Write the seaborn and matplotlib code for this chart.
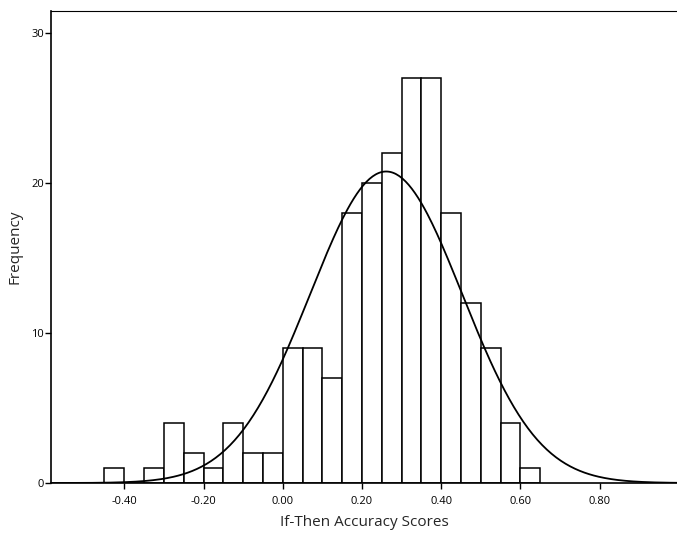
import numpy as np
import pandas as pd
import matplotlib
matplotlib.use("Agg")
import matplotlib.pyplot as plt
import seaborn as sns

# histogram bins (width 0.05) and counts
bin_start = -0.45
bin_stop = 0.65
bin_width = 0.05
counts = [1, 0, 1, 4, 2, 1, 4, 2, 2, 9, 9, 7, 18, 20, 22, 27, 27, 18, 12, 9, 4, 1]
x_ticks = [-0.40, -0.20, 0.00, 0.20, 0.40, 0.60, 0.80]
x_ticklabels = ["-0.40", "-0.20", "0.00", "0.20", "0.40", "0.60", "0.80"]
y_ticks = [0, 10, 20, 30]

sns.set_style("white")
plt.rcParams['font.family'] = ['Open Sans', 'DejaVu Sans']

centers = bin_start + bin_width * (np.arange(len(counts)) + 0.5)
df = pd.DataFrame({'score': centers, 'count': counts})

# normal curve fitted to the binned data
n = df['count'].sum()
mean = np.sum(df['score'] * df['count']) / n
sd = np.sqrt(np.sum(df['count'] * (df['score'] - mean) ** 2) / n)
xs = np.linspace(-0.585, 0.995, 400)
curve = pd.DataFrame({'x': xs,
                      'y': n * bin_width / (sd * np.sqrt(2 * np.pi)) * np.exp(-0.5 * ((xs - mean) / sd) ** 2)})

fig = plt.figure(figsize=(6.77, 5.38), dpi=100)
ax = fig.add_axes([0.0753, 0.1022, 0.9247, 0.8774])

sns.histplot(data=df, x='score', weights='count', binwidth=bin_width,
             binrange=(bin_start, bin_stop), ax=ax,
             color='white', edgecolor='black', linewidth=1.1, alpha=1)
sns.lineplot(data=curve, x='x', y='y', ax=ax, color='black', linewidth=1.3)

ax.set_xlim(-0.585, 0.995)
ax.set_ylim(0, 31.5)
ax.set_xticks(x_ticks)
ax.set_xticklabels(x_ticklabels)
ax.set_yticks(y_ticks)
ax.tick_params(axis='both', direction='out', length=4, width=1, labelsize=8, colors='black')
ax.tick_params(axis='x', pad=5)
ax.tick_params(axis='y', pad=1)
ax.tick_params(bottom=True, left=True)

for side in ['left', 'bottom', 'top']:
    ax.spines[side].set_color('black')
ax.spines['left'].set_linewidth(1.2)
ax.spines['bottom'].set_linewidth(1.2)
ax.spines['top'].set_linewidth(0.8)
ax.spines['right'].set_visible(False)

ax.set_xlabel('If-Then Accuracy Scores', fontsize=11, labelpad=6)
ax.set_ylabel('Frequency', fontsize=11, labelpad=6)

plt.savefig('out.png', dpi=100)
plt.close()
